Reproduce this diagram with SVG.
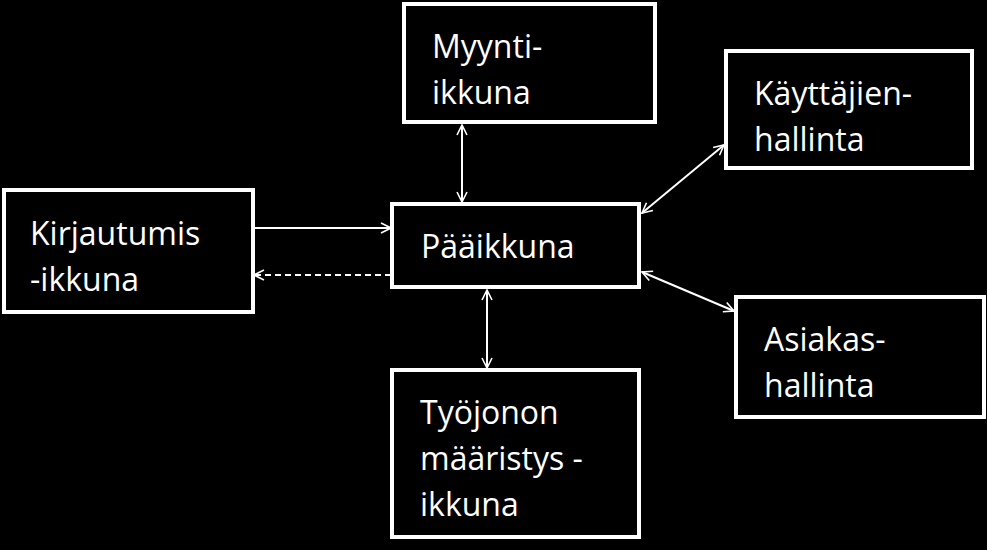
<svg xmlns="http://www.w3.org/2000/svg" width="987" height="550" viewBox="0 0 987 550">
<style>
.box{fill:#000;stroke:#fff;stroke-width:4}
.t{fill:#fff;font-family:"Open Sans","Liberation Sans",sans-serif;font-size:32px}
.c{stroke:#fff;stroke-width:2;fill:none}
</style>
<defs>
<marker id="a" viewBox="0 0 12 12" refX="11" refY="6" markerWidth="12" markerHeight="12" markerUnits="userSpaceOnUse" orient="auto-start-reverse">
<path d="M1,1 L11,6 L1,11" fill="none" stroke="#fff" stroke-width="1.6"/>
</marker>
</defs>
<rect width="987" height="550" fill="#000"/>
<g id="connectors">
<line class="c" x1="254" y1="228" x2="391" y2="228" marker-end="url(#a)"/>
<line class="c" x1="391" y1="275" x2="254" y2="275" stroke-dasharray="6,4" marker-end="url(#a)"/>
<line class="c" x1="462" y1="125" x2="462" y2="202" marker-start="url(#a)" marker-end="url(#a)"/>
<line class="c" x1="487" y1="290" x2="487" y2="368" marker-start="url(#a)" marker-end="url(#a)"/>
<line class="c" x1="642" y1="213" x2="724" y2="145" marker-start="url(#a)" marker-end="url(#a)"/>
<line class="c" x1="642" y1="272" x2="734" y2="311" marker-start="url(#a)" marker-end="url(#a)"/>
</g>
<g id="kirjautumis"><rect class="box" x="4" y="190" width="249" height="122"/><text class="t" x="30" y="245">Kirjautumis</text><text class="t" x="30" y="291">-ikkuna</text></g>
<g id="paaikkuna"><rect class="box" x="392" y="204" width="247" height="83"/><text class="t" x="421" y="258">Pääikkuna</text></g>
<g id="myynti"><rect class="box" x="404" y="4" width="251" height="118"/><text class="t" x="432" y="58">Myynti-</text><text class="t" x="432" y="104">ikkuna</text></g>
<g id="kayttajien"><rect class="box" x="726" y="51" width="246" height="117"/><text class="t" x="754" y="105">Käyttäjien-</text><text class="t" x="754" y="151">hallinta</text></g>
<g id="asiakas"><rect class="box" x="736" y="297" width="248" height="120"/><text class="t" x="764" y="351">Asiakas-</text><text class="t" x="764" y="397">hallinta</text></g>
<g id="tyojonon"><rect class="box" x="392" y="370" width="247" height="167"/><text class="t" x="420" y="424">Työjonon</text><text class="t" x="420" y="470">määristys -</text><text class="t" x="420" y="516">ikkuna</text></g>
</svg>
